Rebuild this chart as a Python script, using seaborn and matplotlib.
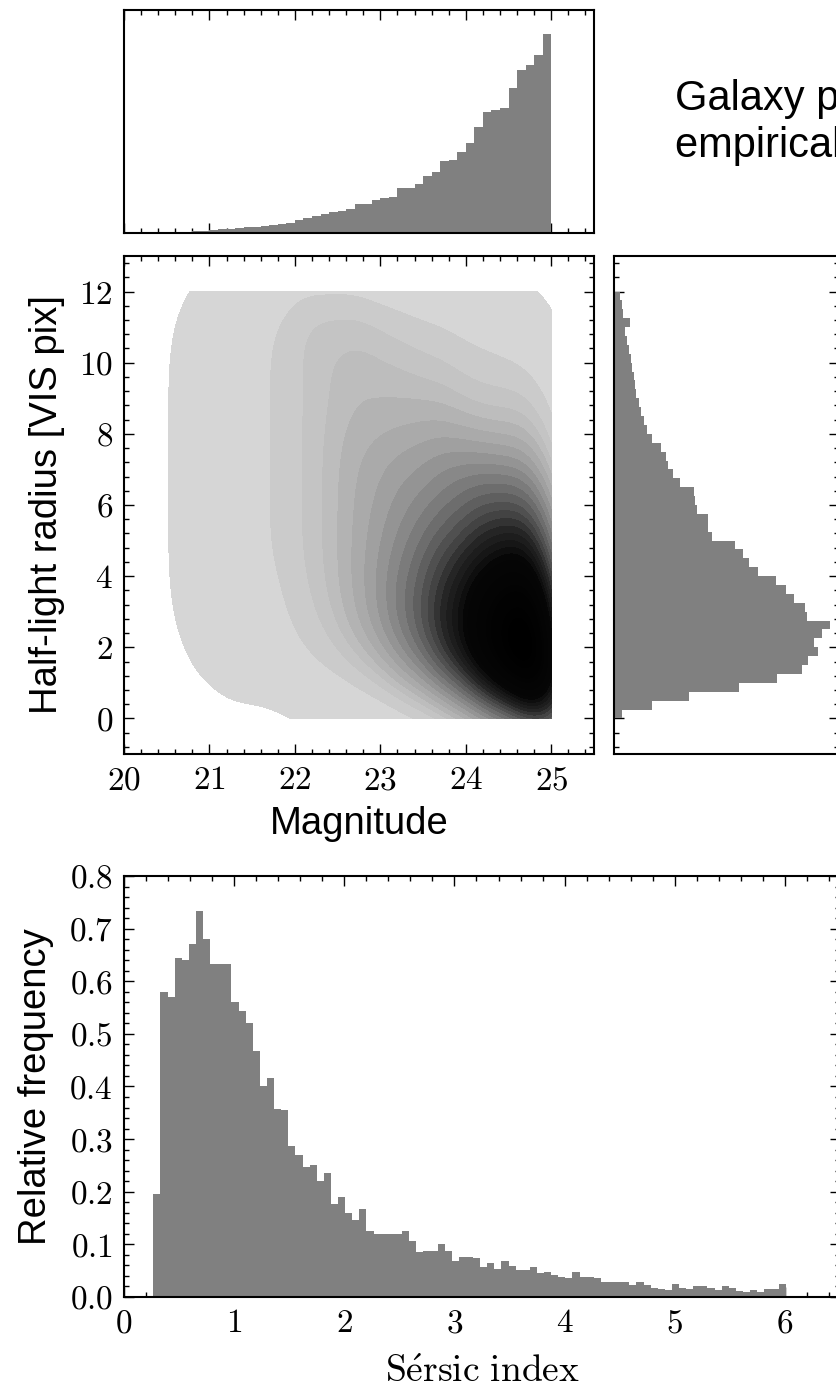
import numpy as np
import pandas as pd
import seaborn as sns
import matplotlib.pyplot as plt
from matplotlib.ticker import AutoMinorLocator, FuncFormatter, MultipleLocator
from matplotlib.colors import LinearSegmentedColormap

# top panel: magnitude histogram, 0.1 mag bins from 20.5 to 25.0 (bar heights)
mag_edges_lo = 20.5
mag_binwidth = 0.1
mag_counts = [0.5, 0.7, 1.0, 1.5, 2.0, 2.5, 3.5, 4.0, 4.5, 5.5,
              6.0, 7.0, 7.5, 9.0, 10.0, 13.0, 15.0, 16.5, 19.0, 20.5,
              22.0, 23.7, 29.3, 29.3, 32.7, 35.3, 36.0, 45.3, 45.3, 48.7,
              57.0, 60.3, 71.3, 72.7, 81.0, 89.7, 106.0, 120.3, 122.7, 124.3,
              144.3, 162.0, 167.0, 177.0, 197.7]

# right panel: half-light radius histogram, 0.25 pix bins from 0 to 12
rad_edges_lo = 0.0
rad_binwidth = 0.25
rad_counts = [8.3, 37.7, 74.0, 124.0, 161.7, 186.0, 192.0, 202.0,
              198.0, 205.7, 214.0, 191.7, 189.0, 178.0, 170.0, 160.7,
              142.7, 134.0, 127.7, 120.0, 96.7, 93.3, 93.3, 82.0,
              80.0, 79.0, 65.7, 58.0, 54.0, 51.7, 46.7, 38.0,
              33.0, 30.0, 26.7, 24.3, 22.3, 21.0, 20.0, 18.3,
              16.7, 15.0, 13.3, 11.0, 15.7, 9.0, 7.7, 5.7]

# scatter panel: rough number of galaxies per cell (rows = radius bins, cols = magnitude bins)
grid_mag = [20.75, 21.25, 21.75, 22.25, 22.75, 23.25, 23.75, 24.25, 24.75]
grid_rad = [0.5, 1.5, 2.5, 3.5, 4.5, 5.5, 6.5, 7.5, 8.5, 9.5, 10.5, 11.5]
grid_counts = [
    [0.2, 0.3, 0.0, 1, 1, 3, 10, 39, 93],
    [0.3, 1.0, 2, 4, 8, 21, 51, 113, 204],
    [0.5, 1.5, 3, 6, 14, 31, 65, 118, 187],
    [0.6, 2.0, 3, 7, 15, 31, 58, 101, 144],
    [0.6, 2.0, 4, 8, 15, 27, 48, 73, 93],
    [0.6, 2.0, 4, 8, 15, 23, 34, 51, 59],
    [0.6, 2.0, 4, 8, 15, 21, 27, 34, 34],
    [0.6, 2.0, 4, 8, 14, 17, 21, 17, 17],
    [0.6, 2.0, 4, 8, 12, 12, 12, 8, 10],
    [0.6, 2.0, 4, 8, 11, 10, 9, 6, 5],
    [0.5, 2.0, 4, 9, 10, 7, 5, 3, 2],
    [0.3, 1.5, 3, 7, 7, 4, 3, 2, 1],
]

# bottom panel: Sersic index relative frequency, bins of 0.0645 starting at 0.266
sersic_lo = 0.266
sersic_binwidth = 0.0645
sersic_freq = [0.195, 0.580, 0.570, 0.644, 0.640, 0.670, 0.733, 0.681, 0.632, 0.632,
               0.632, 0.560, 0.543, 0.521, 0.468, 0.400, 0.416, 0.357, 0.356, 0.287,
               0.270, 0.247, 0.251, 0.220, 0.235, 0.177, 0.190, 0.160, 0.147, 0.168,
               0.125, 0.120, 0.120, 0.120, 0.120, 0.126, 0.106, 0.085, 0.087, 0.088,
               0.101, 0.088, 0.069, 0.076, 0.076, 0.074, 0.057, 0.064, 0.053, 0.069,
               0.059, 0.052, 0.052, 0.057, 0.045, 0.048, 0.042, 0.038, 0.036, 0.048,
               0.038, 0.038, 0.036, 0.029, 0.029, 0.028, 0.028, 0.022, 0.029, 0.022,
               0.018, 0.015, 0.013, 0.025, 0.018, 0.015, 0.020, 0.020, 0.017, 0.013,
               0.021, 0.017, 0.012, 0.010, 0.013, 0.010, 0.015, 0.015, 0.025]

# the title runs off the right edge in the reference, only its start is visible
title_lines = ['Galaxy parameters', 'empirical distributions']

sns.set_style('white')
plt.rcParams['font.family'] = ['Liberation Sans', 'DejaVu Sans']
plt.rcParams['mathtext.fontset'] = 'cm'
plt.rcParams['text.color'] = 'black'
plt.rcParams['axes.labelcolor'] = 'black'

BAR = '#808080'
TICK_FS = 24
LABEL_FS = 27.5

# build tables
mag_df = pd.DataFrame({
    'mag': [mag_edges_lo + mag_binwidth * (i + 0.5) for i in range(len(mag_counts))],
    'n': mag_counts})
rad_df = pd.DataFrame({
    'rad': [rad_edges_lo + rad_binwidth * (i + 0.5) for i in range(len(rad_counts))],
    'n': rad_counts})
sersic_df = pd.DataFrame({
    'sersic': [sersic_lo + sersic_binwidth * (i + 0.5) for i in range(len(sersic_freq))],
    'freq': sersic_freq})
rows = []
for j, r in enumerate(grid_rad):
    for i, m in enumerate(grid_mag):
        rows.append({'mag': m, 'rad': r, 'n': grid_counts[j][i]})
grid_df = pd.DataFrame(rows)
grid_df = grid_df[grid_df['n'] > 0]

fig = plt.figure(figsize=(8.37, 13.91), dpi=100)
ax_top = fig.add_axes([0.14815, 0.83249, 0.56153, 0.16032])
ax_main = fig.add_axes([0.14815, 0.45795, 0.56153, 0.35801])
ax_right = fig.add_axes([0.73357, 0.45795, 0.26882, 0.35801])
ax_bot = fig.add_axes([0.14815, 0.06758, 0.85544, 0.30266])


def style_axes(ax):
    for s in ax.spines.values():
        s.set_linewidth(1.5)
        s.set_color('black')
    ax.tick_params(which='both', direction='in', top=True, right=True,
                   bottom=True, left=True, width=1.0, colors='black')
    ax.tick_params(which='major', length=7)
    ax.tick_params(which='minor', length=3.5)


def int_fmt(v, pos):
    return f'${v:g}$'


def one_dec_fmt(v, pos):
    return f'${v:.1f}$'


# ---- top histogram (magnitude)
sns.histplot(data=mag_df, x='mag', weights='n',
             bins=len(mag_counts), binrange=(20.5, 25.0),
             element='step', fill=True, color=BAR, alpha=1, linewidth=0, ax=ax_top)
ax_top.set_xlim(20, 25.5)
ax_top.set_ylim(0, 222)
ax_top.xaxis.set_major_locator(MultipleLocator(1))
ax_top.xaxis.set_minor_locator(AutoMinorLocator(5))
ax_top.set_yticks([])
ax_top.set_xticklabels([])
ax_top.set_xlabel('')
ax_top.set_ylabel('')
style_axes(ax_top)
ax_top.tick_params(labelbottom=False, left=False, right=False)

# ---- scatter panel drawn as point density
grey_cmap = LinearSegmentedColormap.from_list(
    'pts', [(0.0, '#dcdcdc'), (0.1, '#adadad'), (0.25, '#6c6c6c'),
            (0.42, '#262626'), (0.58, '#060606'), (1.0, '#000000')])
sns.kdeplot(data=grid_df, x='mag', y='rad', weights='n', fill=True,
            levels=30, thresh=0.0005, cmap=grey_cmap, bw_adjust=0.6,
            clip=((20.5, 25.0), (0.0, 12.0)), ax=ax_main)
ax_main.set_xlim(20, 25.5)
ax_main.set_ylim(-1, 13)
ax_main.xaxis.set_major_locator(MultipleLocator(1))
ax_main.yaxis.set_major_locator(MultipleLocator(2))
ax_main.xaxis.set_minor_locator(AutoMinorLocator(5))
ax_main.yaxis.set_minor_locator(AutoMinorLocator(5))
ax_main.xaxis.set_major_formatter(FuncFormatter(int_fmt))
ax_main.yaxis.set_major_formatter(FuncFormatter(int_fmt))
style_axes(ax_main)
ax_main.tick_params(labelsize=TICK_FS, pad=8)
ax_main.set_xlabel('Magnitude', fontsize=LABEL_FS)
ax_main.set_ylabel('Half-light radius [VIS pix]', fontsize=LABEL_FS)
ax_main.xaxis.set_label_coords(0.5, -0.105)
ax_main.yaxis.set_label_coords(-0.125, 0.5)

# ---- right histogram (radius)
sns.histplot(data=rad_df, y='rad', weights='n',
             bins=len(rad_counts), binrange=(0.0, 12.0),
             element='step', fill=True, color=BAR, alpha=1, linewidth=0, ax=ax_right)
ax_right.set_ylim(-1, 13)
ax_right.set_xlim(0, 223)
ax_right.yaxis.set_major_locator(MultipleLocator(2))
ax_right.yaxis.set_minor_locator(AutoMinorLocator(5))
ax_right.set_xticks([])
ax_right.set_yticklabels([])
ax_right.set_xlabel('')
ax_right.set_ylabel('')
style_axes(ax_right)
ax_right.tick_params(labelleft=False, bottom=False, top=False)

fig.text(675 / 837, 1 - 110 / 1391, title_lines[0], fontsize=30, ha='left', va='baseline')
fig.text(675 / 837, 1 - 157 / 1391, title_lines[1], fontsize=30, ha='left', va='baseline')

# ---- bottom histogram (Sersic index)
sns.histplot(data=sersic_df, x='sersic', weights='freq',
             bins=len(sersic_freq),
             binrange=(sersic_lo, sersic_lo + sersic_binwidth * len(sersic_freq)),
             element='step', fill=True, color=BAR, alpha=1, linewidth=0, ax=ax_bot)
ax_bot.set_xlim(0, 6.5)
ax_bot.set_ylim(0, 0.8)
ax_bot.xaxis.set_major_locator(MultipleLocator(1))
ax_bot.yaxis.set_major_locator(MultipleLocator(0.1))
ax_bot.xaxis.set_minor_locator(AutoMinorLocator(5))
ax_bot.yaxis.set_minor_locator(AutoMinorLocator(5))
ax_bot.xaxis.set_major_formatter(FuncFormatter(int_fmt))
ax_bot.yaxis.set_major_formatter(FuncFormatter(one_dec_fmt))
style_axes(ax_bot)
ax_bot.tick_params(labelsize=TICK_FS, pad=8)
ax_bot.set_xlabel(r'$\mathrm{S\acute{e}rsic\ index}$', fontsize=27)
ax_bot.set_ylabel('Relative frequency', fontsize=LABEL_FS)
ax_bot.xaxis.set_label_coords(0.5, -0.135)
ax_bot.yaxis.set_label_coords(-0.098, 0.5)

fig.savefig('out.png', dpi=100)
